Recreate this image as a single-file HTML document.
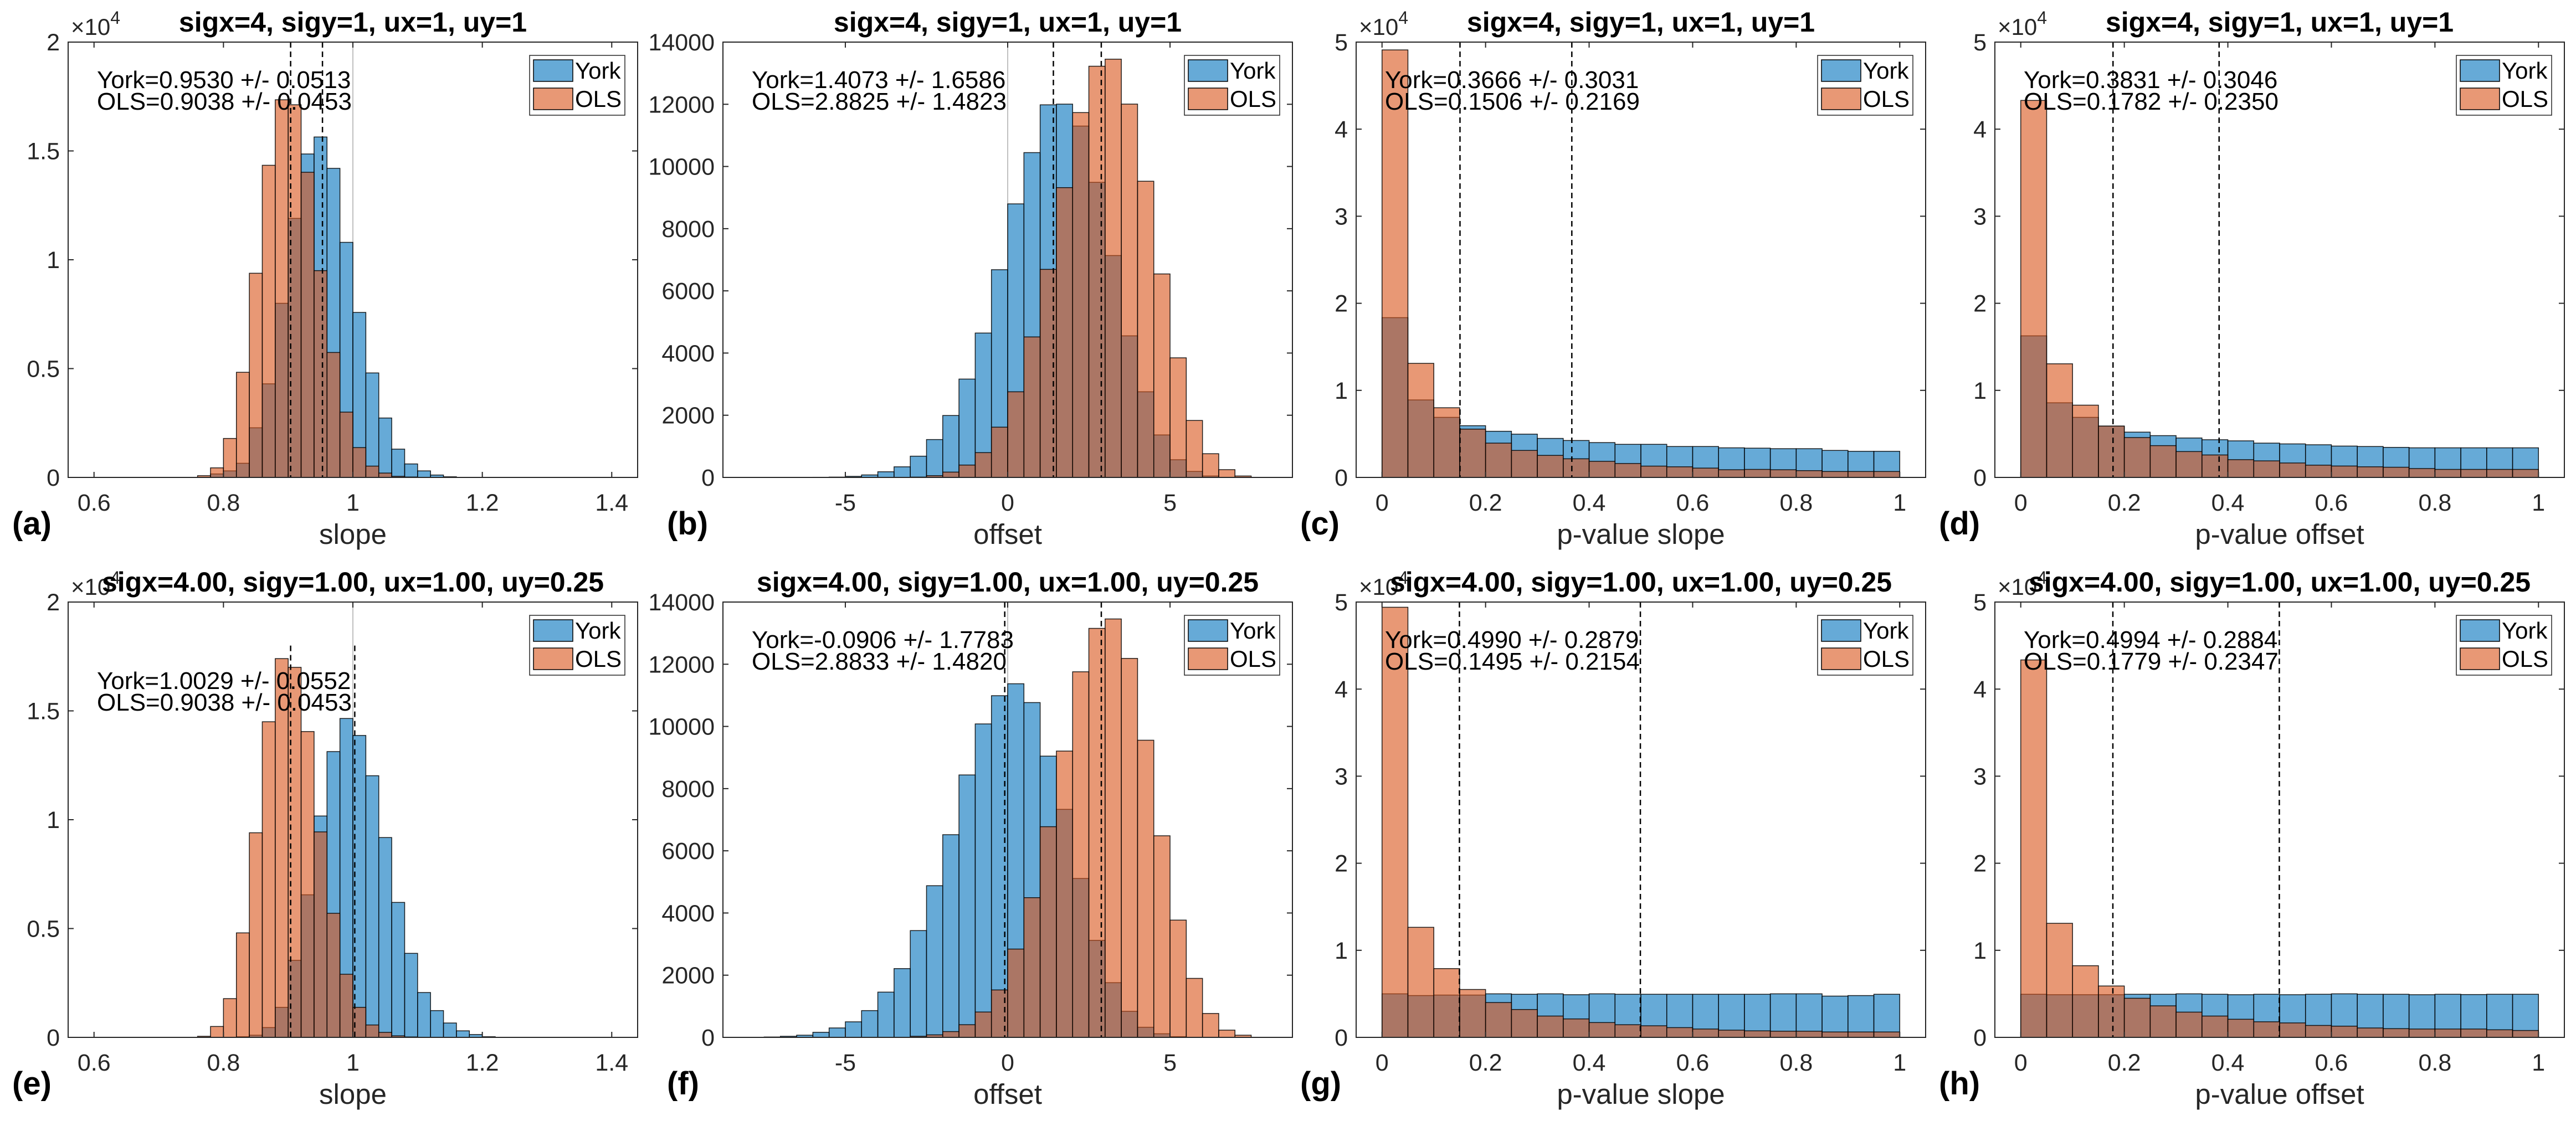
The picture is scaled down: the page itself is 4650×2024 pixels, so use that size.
<!DOCTYPE html>
<html><head><meta charset="utf-8">
<style>
html,body{margin:0;padding:0;background:#fff;}
svg{display:block;font-family:"Liberation Sans",Arial,sans-serif;}
</style></head>
<body>
<svg id="fig" width="4650" height="2024" viewBox="0 0 4650 2024" xmlns="http://www.w3.org/2000/svg"></svg>
<script>
// ---- data (bin counts) ----
const slopeTicks = [0.6, 0.8, 1, 1.2, 1.4];
const offsetTicks = [-5, 0, 5];
const pTicks = [0, 0.2, 0.4, 0.6, 0.8, 1];
const slopeYTicks = [0, 0.5, 1, 1.5, 2];
const offsetYTicks = [0, 2000, 4000, 6000, 8000, 10000, 12000, 14000];
const pYTicks = [0, 1, 2, 3, 4, 5];

const yorkA = [0,160,300,650,2280,4300,8000,11900,14860,15640,14200,10800,7580,4800,2730,1300,620,300,110,30];
const olsA  = [80,440,1790,4830,9380,14340,17350,17120,14020,9500,5740,3000,1370,520,200,50,20,0,0,0];
const yorkB = [5,11,34,80,182,341,683,1218,1991,3163,4643,6680,8797,10446,11982,12005,11300,9490,7135,4553,2754,1366,569,193,46,0,0];
const olsB  = [0,0,0,0,0,0,11,57,171,398,797,1616,2754,4518,6691,9320,11733,13224,13451,12006,9525,6544,3846,1832,762,250,46];
const yorkC = [18350,8900,6900,5940,5300,4970,4480,4240,4000,3800,3800,3550,3550,3400,3360,3300,3300,3100,3000,3000];
const olsC  = [49100,13100,8000,5550,3940,3100,2530,2140,1850,1600,1300,1220,1070,880,920,880,780,680,680,680];
const yorkD = [16260,8570,6900,5900,5200,4800,4530,4330,4200,3940,3850,3750,3600,3550,3450,3400,3400,3400,3400,3400];
const olsD  = [43300,13050,8300,5900,4580,3650,2970,2580,2040,1900,1660,1410,1310,1220,1170,1020,920,920,920,920];
const yorkE = [0,0,0,30,100,450,1380,3540,6550,10170,13130,14650,13870,12020,9180,6200,3860,2060,1230,660,300,130,30];
const olsE  = [50,500,1780,4800,9400,14500,17400,17000,14050,9440,5700,2900,1380,570,230,70,20,0,0,0,0,0,0];
const yorkF = [12,35,70,163,303,500,861,1455,2212,3434,4877,6518,8439,10080,10988,11372,10767,9044,7333,5110,3120,1758,838,326,116,23,0,0,0,0];
const olsF  = [0,0,0,0,0,0,0,0,0,35,81,186,407,815,1525,2840,4493,6775,9207,11757,13153,13456,12187,9556,6483,3771,1897,768,233,70];
const yorkG = [5000,4800,4860,4860,5000,4950,5000,4900,5000,4950,4950,4950,4950,4950,4950,5000,5000,4740,4800,4950];
const olsG  = [49400,12640,7900,5500,4000,3200,2450,2120,1700,1450,1330,1120,960,830,750,710,710,620,620,620];
const yorkH = [4950,4900,4900,4900,4950,4950,5000,4950,4900,4950,4900,4950,5000,4950,4950,4900,4950,4920,4950,4950];
const olsH  = [43350,13100,8230,5900,4490,3620,2900,2450,2080,1790,1660,1370,1290,1080,1000,960,960,960,870,790];

const meansYork = [0.9530, 1.4073, 0.3666, 0.3831, 1.0029, -0.0906, 0.4990, 0.4994];
const meansOLS  = [0.9038, 2.8825, 0.1506, 0.1782, 0.9038, 2.8833, 0.1495, 0.1779];
const annYork = ["York=0.9530 +/- 0.0513","York=1.4073 +/- 1.6586","York=0.3666 +/- 0.3031","York=0.3831 +/- 0.3046",
                 "York=1.0029 +/- 0.0552","York=-0.0906 +/- 1.7783","York=0.4990 +/- 0.2879","York=0.4994 +/- 0.2884"];
const annOLS  = ["OLS=0.9038 +/- 0.0453","OLS=2.8825 +/- 1.4823","OLS=0.1506 +/- 0.2169","OLS=0.1782 +/- 0.2350",
                 "OLS=0.9038 +/- 0.0453","OLS=2.8833 +/- 1.4820","OLS=0.1495 +/- 0.2154","OLS=0.1779 +/- 0.2347"];
const titles = ["sigx=4, sigy=1, ux=1, uy=1","sigx=4.00, sigy=1.00, ux=1.00, uy=0.25"];
const letters = ["(a)","(b)","(c)","(d)","(e)","(f)","(g)","(h)"];
const xLabels = ["slope","offset","p-value slope","p-value offset"];

// ---- layout ----
const colL = [123, 1305, 2448, 3601], AW = 1028;
const rowT = [76, 1087], AH = 786;
const NS = "http://www.w3.org/2000/svg";
const svg = document.getElementById('fig');
function mk(tag, attrs, parent){ const e=document.createElementNS(NS,tag); for(const k in attrs) e.setAttribute(k,attrs[k]); (parent||svg).appendChild(e); return e; }

const panels = [
 {york:yorkA, ols:olsA, start:0.76, w:0.02, kind:'slope'},
 {york:yorkB, ols:olsB, start:-6, w:0.5, kind:'offset'},
 {york:yorkC, ols:olsC, start:0, w:0.05, kind:'p'},
 {york:yorkD, ols:olsD, start:0, w:0.05, kind:'p'},
 {york:yorkE, ols:olsE, start:0.76, w:0.02, kind:'slope', dashTop:18000, shift:74},
 {york:yorkF, ols:olsF, start:-7.5, w:0.5, kind:'offset'},
 {york:yorkG, ols:olsG, start:0, w:0.05, kind:'p'},
 {york:yorkH, ols:olsH, start:0, w:0.05, kind:'p'}
];
const kinds = {
 slope:{xmin:0.56, xmax:1.44, ymax:20000, xt:slopeTicks, yt:slopeYTicks, ys:10000, exp:true, truth:1},
 offset:{xmin:-8.77, xmax:8.77, ymax:14000, xt:offsetTicks, yt:offsetYTicks, ys:1, exp:false, truth:0},
 p:{xmin:-0.05, xmax:1.05, ymax:50000, xt:pTicks, yt:pYTicks, ys:10000, exp:true, truth:null}
};
const fmt = v => String(Math.round(v*1000)/1000);

panels.forEach((p, i) => {
  const col = i % 4, row = Math.floor(i/4);
  const L = colL[col], T = rowT[row], R = L + AW, B = T + AH;
  const k = kinds[p.kind];
  const X = v => L + (v - k.xmin) / (k.xmax - k.xmin) * AW;
  const Y = v => B - v / k.ymax * AH;
  const g = mk('g', { });
  mk('rect', {x:L, y:T, width:AW, height:AH, fill:'#fff'}, g);
  if (k.truth !== null) {
    const tl = mk('line', {x1:X(k.truth), x2:X(k.truth), y1:T, y2:B, stroke:'#c0c0c0', 'stroke-width':2}, g);
    
    
  }
  const series = [[p.york, '#0072BD', 'york'], [p.ols, '#D95319', 'ols']];
  series.forEach(([arr, col2, nm]) => {
    const sg = mk('g', { }, g);
    arr.forEach((v, j) => {
      if (v <= 0) return;
      const x0 = X(p.start + j*p.w), x1 = X(p.start + (j+1)*p.w);
      const r = mk('rect', {x:x0, y:Y(v), width:x1-x0, height:B-Y(v), fill:col2, 'fill-opacity':0.6, stroke:'#000', 'stroke-width':1.5, 'stroke-opacity':0.85}, sg);
      
      
    });
  });
  [meansOLS[i], meansYork[i]].forEach((m, j) => {
    const top = p.dashTop ? Y(p.dashTop) : T;
    const dl = mk('line', {x1:X(m), x2:X(m), y1:top, y2:B, stroke:'#000', 'stroke-width':2.5, 'stroke-dasharray':'10,7'}, g);
    
    
  });
  mk('rect', {x:L, y:T, width:AW, height:AH, fill:'none', stroke:'#262626', 'stroke-width':2,  }, g);
  k.xt.forEach(t => {
    const x = X(t);
    mk('line', {x1:x, x2:x, y1:B, y2:B-10, stroke:'#262626', 'stroke-width':2}, g);
    mk('line', {x1:x, x2:x, y1:T, y2:T+10, stroke:'#262626', 'stroke-width':2}, g);
    const tx = mk('text', {x:x, y:B+60, 'font-size':43, fill:'#262626', 'text-anchor':'middle'}, g);
    tx.textContent = fmt(t);
    
    
  });
  k.yt.forEach(t => {
    const y = Y(t * k.ys);
    mk('line', {x1:L, x2:L+10, y1:y, y2:y, stroke:'#262626', 'stroke-width':2}, g);
    mk('line', {x1:R, x2:R-10, y1:y, y2:y, stroke:'#262626', 'stroke-width':2}, g);
    const ty = mk('text', {x:L-15, y:y+15, 'font-size':43, fill:'#262626', 'text-anchor':'end'}, g);
    ty.textContent = fmt(t);
    
    
  });
  if (k.exp) {
    const ex = mk('text', {x:L+5, y:T-13, 'font-size':42, fill:'#262626',  }, g);
    ex.innerHTML = '×10<tspan dy="-20" font-size="32">4</tspan>';
  }
  const tt = mk('text', {x:L+AW/2, y:T-19, 'font-size':50, 'font-weight':'bold', fill:'#000', 'text-anchor':'middle',  }, g);
  tt.textContent = titles[row];
  const xl = mk('text', {x:L+AW/2, y:B+120, 'font-size':51, fill:'#262626', 'text-anchor':'middle',  }, g);
  xl.textContent = xLabels[col];
  const lt = mk('text', {x:L-101, y:B+103, 'font-size':58, 'font-weight':'bold', fill:'#000',  }, g);
  lt.textContent = letters[i];
  const sh = p.shift || 0;
  const a1 = mk('text', {x:L+52, y:T+83+sh, 'font-size':44, fill:'#000',  }, g);
  a1.textContent = annYork[i];
  const a2 = mk('text', {x:L+52, y:T+122+sh, 'font-size':44, fill:'#000',  }, g);
  a2.textContent = annOLS[i];
  const lg = mk('g', { }, g);
  const lx = R - 23 - 172, ly = T + 24;
  mk('rect', {x:lx, y:ly, width:172, height:108, fill:'#fff', stroke:'#262626', 'stroke-width':1.5}, lg);
  [['York','#0072BD',8],['OLS','#D95319',59]].forEach(([nm,c,dy]) => {
    const e = mk('g', { }, lg);
    mk('rect', {x:lx+7, y:ly+dy, width:71, height:39, fill:c, 'fill-opacity':0.6, stroke:'#000', 'stroke-width':1.5}, e);
    const t = mk('text', {x:lx+82, y:ly+dy+34, 'font-size':42, fill:'#000'}, e);
    t.textContent = nm;
  });
});
</script>
</body></html>
